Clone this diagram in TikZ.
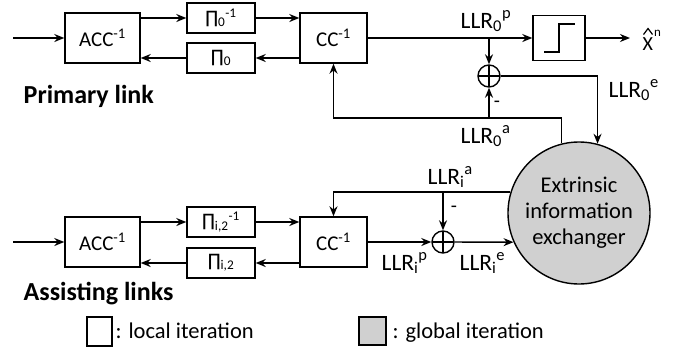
\documentclass[tikz,border=0pt]{standalone}
\usepackage{fontspec}
\setmainfont{Carlito}
\newfontfamily\djv{DejaVu Sans}
\usetikzlibrary{arrows.meta}
\definecolor{eiegray}{RGB}{208,208,208}
\newcommand\subsup[2]{\textsubscript{#1}\textsuperscript{#2}}
\newcommand\bigpi{{\djv\fontsize{17}{17}\selectfont ∏}}
\begin{document}
\begin{tikzpicture}[x=1pt,y=-1pt,line width=1.4pt,
  >={Stealth[length=10pt,width=8pt]},
  blk/.style={draw,rectangle,inner sep=0pt,font=\fontsize{21}{21}\selectfont},
  bigblk/.style={blk,minimum width=75,minimum height=50},
  ccblk/.style={blk,minimum width=67,minimum height=50},
  piblk/.style={blk,minimum width=68,minimum height=30,font=\fontsize{19}{19}\selectfont},
  sumnode/.style={draw,circle,minimum size=22,inner sep=0pt,
    path picture={\draw[line width=1.2pt] (path picture bounding box.north) -- (path picture bounding box.south)
      (path picture bounding box.west) -- (path picture bounding box.east);}},
  lab/.style={inner sep=0pt,anchor=base west,font=\fontsize{23.5}{23.5}\selectfont},
  title/.style={inner sep=0pt,anchor=base west,font=\fontsize{26}{26}\selectfont\bfseries},
  leg/.style={inner sep=0pt,anchor=base west,font=\fontsize{22.5}{22.5}\selectfont}]
\useasboundingbox (0,0) rectangle (686,349);

% primary link
\node[bigblk] (acc0) at (102.5,38) {ACC\textsuperscript{-1}};
\node[piblk] (pinv0) at (221,18) {\bigpi\subsup{0}{-1}};
\node[piblk] (pi0) at (221,58) {\bigpi\textsubscript{0}};
\node[ccblk] (cc0) at (333.5,38) {CC\textsuperscript{-1}};
\node[draw,rectangle,minimum width=52,minimum height=45,inner sep=0pt] (step) at (559,38) {};
\draw[line width=1.3pt] (544,52) -- (559,52) -- (559,24) -- (575,24);
\node[inner sep=0pt,anchor=base west,font=\fontsize{20}{20}\selectfont] (xhat) at (642,50) {X\kern1pt\raisebox{13.5pt}{\fontsize{13}{13}\selectfont n}};
\draw[line width=1.2pt] (643.5,34.5) -- (648,28.5) -- (652.5,34.5);
\node[sumnode] (sum0) at (489,76) {};
\node[draw,circle,fill=eiegray,minimum size=142,inner sep=0pt,align=center,
  font=\fontsize{22.5}{26}\selectfont] (eie) at (579,213) {Extrinsic\\information\\exchanger};

\coordinate (in0) at (13,38);
\coordinate (out0) at (630,38);
\coordinate (b0) at (489,38);
\coordinate (f0) at (561,118);

\draw[->] (in0) -- (acc0);
\draw[->] (acc0.east |- pinv0.west) -- (pinv0.west);
\draw[->] (pinv0.east) -- (cc0.west |- pinv0.east);
\draw[->] (cc0.west |- pi0.east) -- (pi0.east);
\draw[->] (pi0.west) -- (acc0.east |- pi0.west);
\draw[->] (cc0) -- (step);
\draw[->] (step) -- (out0);
\draw[->] (b0) -- (sum0.north);
\draw[->] (sum0.east) -| (eie.75.3);
\draw[->] (eie.104.7) |- (cc0.south |- f0) -- (cc0.south);
\draw[->] (sum0.south |- f0) -- (sum0.south);

\node[lab] (l0p) at (460,28) {LLR\subsup{0}{p}};
\node[lab] (l0e) at (608,97) {LLR\subsup{0}{e}};
\node[lab] (l0a) at (460,143) {LLR\subsup{0}{a}};
\node[inner sep=0pt,font=\fontsize{20}{20}\selectfont] (m0) at (497,104) {-};
\node[title] (pl) at (23,103) {Primary link};

% assisting links
\node[bigblk] (acc1) at (102.5,242) {ACC\textsuperscript{-1}};
\node[piblk] (pinv1) at (221,222) {\bigpi\subsup{i,2}{-1}};
\node[piblk] (pi1) at (221,263) {\bigpi\textsubscript{i,2}};
\node[ccblk] (cc1) at (333.5,242) {CC\textsuperscript{-1}};
\node[sumnode] (sum1) at (443,242) {};

\coordinate (in1) at (13,242);
\coordinate (b1) at (443,193);

\draw[->] (in1) -- (acc1);
\draw[->] (acc1.east |- pinv1.west) -- (pinv1.west);
\draw[->] (pinv1.east) -- (cc1.west |- pinv1.east);
\draw[->] (cc1.west |- pi1.east) -- (pi1.east);
\draw[->] (pi1.west) -- (acc1.east |- pi1.west);
\draw[->] (eie.163.6) -| (cc1.north);
\draw[->] (b1) -- (sum1.north);
\draw[->] (cc1) -- (sum1);
\draw[->] (sum1) -- (eie.204.1);

\node[lab] (lia) at (427,184) {LLR\subsup{i}{a}};
\node[lab] (lip) at (381,270) {LLR\subsup{i}{p}};
\node[lab] (lie) at (459,270) {LLR\subsup{i}{e}};
\node[inner sep=0pt,font=\fontsize{20}{20}\selectfont] (m1) at (454,209) {-};
\node[title] (al) at (23,300) {Assisting links};

% legend
\node[draw,rectangle,minimum width=25,minimum height=29,inner sep=0pt] (lg1) at (99.5,331.5) {};
\node[leg] (lt1) at (115,338) {: local iteration};
\node[draw,rectangle,fill=eiegray,minimum width=27,minimum height=28,inner sep=0pt] (lg2) at (372.5,331) {};
\node[leg] (lt2) at (392,338) {: global iteration};
\end{tikzpicture}
\end{document}
